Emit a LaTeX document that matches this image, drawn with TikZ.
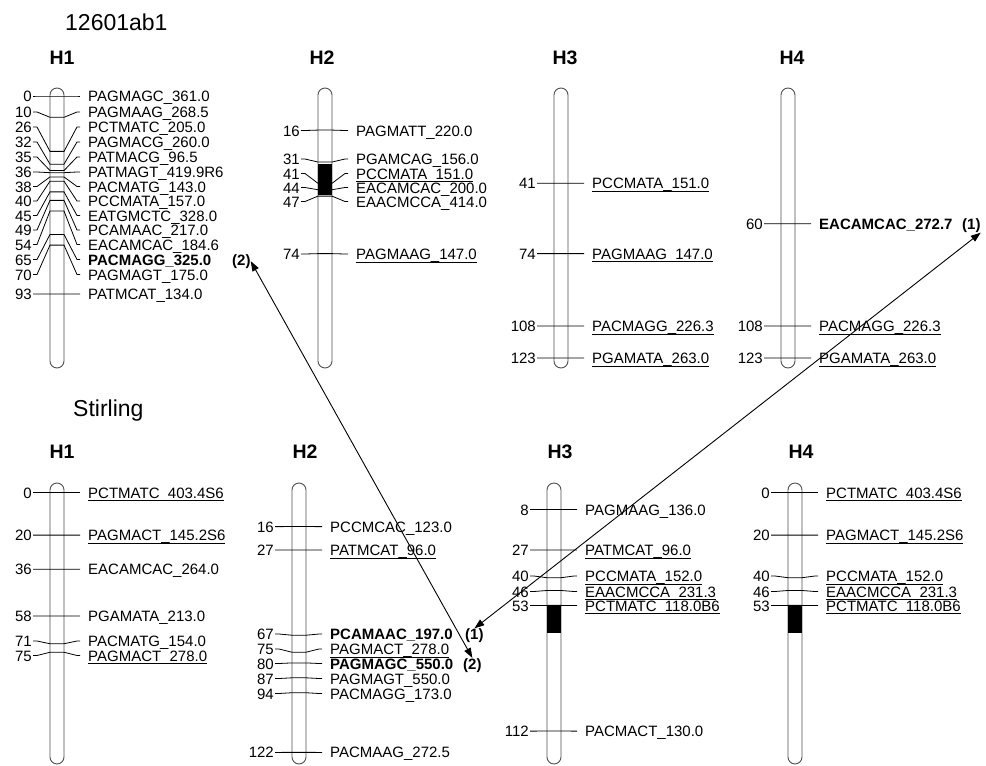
\documentclass[tikz,border=0pt]{standalone}
\usepackage{fontspec}
\setmainfont{Liberation Sans}
\usepackage{tikz}
\usetikzlibrary{arrows.meta}
\definecolor{barGray}{HTML}{505050}
\newsavebox{\ulbox}
\newcommand{\ulab}[1]{\sbox{\ulbox}{#1}\rlap{\rule[-3pt]{\wd\ulbox}{0.9pt}}\usebox{\ulbox}}
% chromosome: x, top, bottom
\newcommand{\chrom}[3]{\draw[bar] (#1-7,#2) rectangle (#1+7,#3);}
% marker: name, x, zero y, cM, label y, text
\newcommand{\mrk}[6]{%
  \draw[tick] (#2-24,#5) -- (#2-20,#5) -- (#2-7,#3+2.13*#4) -- (#2+7,#3+2.13*#4) -- (#2+20,#5) -- (#2+23,#5);
  \node[cmpos] (#1p) at (#2-25,#5+5.5) {#4};
  \node[mname] (#1) at (#2+31,#5+5.5) {#6};}

\begin{document}
\begin{tikzpicture}[x=1pt, y=-1pt,
  tick/.style={line width=0.8pt},
  bar/.style={draw=barGray, line width=0.9pt, fill=white, rounded corners=7pt},
  cmpos/.style={anchor=base east, inner sep=0pt, font=\fontsize{15}{15}\selectfont},
  mname/.style={anchor=base west, inner sep=0pt, font=\fontsize{15}{15}\selectfont},
  hd/.style={anchor=base, inner sep=0pt, font=\bfseries\fontsize{19.5}{20}\selectfont},
  pop/.style={anchor=base west, inner sep=0pt, font=\fontsize{23}{24}\selectfont},
  arr/.style={{Triangle[length=10pt,width=7pt]}-{Triangle[length=10pt,width=7pt]}, line width=0.9pt}]
\useasboundingbox (0,0) rectangle (986,766);

% 12601ab1
\node[pop] (popA) at (65,30) {12601ab1};
\node[hd] (tH1) at (62,64) {H1};
\node[hd] (tH2) at (322,64) {H2};
\node[hd] (tH3) at (565,64) {H3};
\node[hd] (tH4) at (792,64) {H4};
\chrom{57}{88}{368}
\chrom{325}{88}{368}
\chrom{561}{88}{368}
\chrom{788}{88}{368}
\fill (318,164) rectangle (332,195);

\mrk{t1a}{57}{96}{0}{96}{PAGMAGC\_361.0}
\mrk{t1b}{57}{96}{10}{112}{PAGMAAG\_268.5}
\mrk{t1c}{57}{96}{26}{127}{PCTMATC\_205.0}
\mrk{t1d}{57}{96}{32}{142}{PAGMACG\_260.0}
\mrk{t1e}{57}{96}{35}{157}{PATMACG\_96.5}
\mrk{t1f}{57}{96}{36}{172}{PATMAGT\_419.9R6}
\mrk{t1g}{57}{96}{38}{186.5}{PACMATG\_143.0}
\mrk{t1h}{57}{96}{40}{201}{PCCMATA\_157.0}
\mrk{t1i}{57}{96}{45}{215.5}{EATGMCTC\_328.0}
\mrk{t1j}{57}{96}{49}{230}{PCAMAAC\_217.0}
\mrk{t1k}{57}{96}{54}{244.5}{EACAMCAC\_184.6}
\mrk{t1l}{57}{96}{65}{259.5}{\textbf{PACMAGG\_325.0}}
\mrk{t1m}{57}{96}{70}{274.5}{PAGMAGT\_175.0}
\mrk{t1n}{57}{96}{93}{294}{PATMCAT\_134.0}
\node[mname] (t1two) at (232,265) {\textbf{(2)}};

\mrk{t2a}{325}{96}{16}{130.5}{PAGMATT\_220.0}
\mrk{t2b}{325}{96}{31}{159}{PGAMCAG\_156.0}
\mrk{t2c}{325}{96}{41}{173.5}{\ulab{PCCMATA\_151.0}}
\mrk{t2d}{325}{96}{44}{187.5}{EACAMCAC\_200.0}
\mrk{t2e}{325}{96}{47}{201.5}{EAACMCCA\_414.0}
\mrk{t2f}{325}{96}{74}{254}{\ulab{PAGMAAG\_147.0}}

\mrk{t3a}{561}{96}{41}{183.3}{\ulab{PCCMATA\_151.0}}
\mrk{t3b}{561}{96}{74}{253.6}{\ulab{PAGMAAG\_147.0}}
\mrk{t3c}{561}{96}{108}{326}{\ulab{PACMAGG\_226.3}}
\mrk{t3d}{561}{96}{123}{358}{\ulab{PGAMATA\_263.0}}

\mrk{t4a}{788}{96}{60}{223.8}{\textbf{EACAMCAC\_272.7}}
\mrk{t4b}{788}{96}{108}{326}{\ulab{PACMAGG\_226.3}}
\mrk{t4c}{788}{96}{123}{358}{\ulab{PGAMATA\_263.0}}
\node[mname] (t4one) at (962,229.3) {\textbf{(1)}};

% Stirling
\node[pop] (popB) at (73,416) {Stirling};
\node[hd] (bH1) at (62,458) {H1};
\node[hd] (bH2) at (305,458) {H2};
\node[hd] (bH3) at (560,458) {H3};
\node[hd] (bH4) at (801,458) {H4};
\chrom{57}{483}{764}
\chrom{299}{483}{764}
\chrom{554}{483}{764}
\chrom{795}{483}{764}
\fill (547,606) rectangle (561,633);
\fill (788,606) rectangle (802,633);

\mrk{b1a}{57}{492.5}{0}{492.5}{\ulab{PCTMATC\_403.4S6}}
\mrk{b1b}{57}{492.5}{20}{535.1}{\ulab{PAGMACT\_145.2S6}}
\mrk{b1c}{57}{492.5}{36}{569.2}{EACAMCAC\_264.0}
\mrk{b1d}{57}{492.5}{58}{616}{PGAMATA\_213.0}
\mrk{b1e}{57}{492.5}{71}{641}{PACMATG\_154.0}
\mrk{b1f}{57}{492.5}{75}{655.5}{\ulab{PAGMACT\_278.0}}

\mrk{b2a}{299}{492.5}{16}{526.6}{PCCMCAC\_123.0}
\mrk{b2b}{299}{492.5}{27}{550}{\ulab{PATMCAT\_96.0}}
\mrk{b2c}{299}{492.5}{67}{634}{\textbf{PCAMAAC\_197.0}}
\mrk{b2d}{299}{492.5}{75}{649}{\ulab{PAGMACT\_278.0}}
\mrk{b2e}{299}{492.5}{80}{663.5}{\textbf{PAGMAGC\_550.0}}
\mrk{b2f}{299}{492.5}{87}{678.5}{PAGMAGT\_550.0}
\mrk{b2g}{299}{492.5}{94}{693.5}{PACMAGG\_173.0}
\mrk{b2h}{299}{492.5}{122}{752.4}{PACMAAG\_272.5}
\node[mname] (b2one) at (465,639.5) {\textbf{(1)}};
\node[mname] (b2two) at (463,669) {\textbf{(2)}};

\mrk{b3a}{554}{492.5}{8}{509.5}{PAGMAAG\_136.0}
\mrk{b3b}{554}{492.5}{27}{550}{\ulab{PATMCAT\_96.0}}
\mrk{b3c}{554}{492.5}{40}{576}{\ulab{PCCMATA\_152.0}}
\mrk{b3d}{554}{492.5}{46}{591.5}{\ulab{EAACMCCA\_231.3}}
\mrk{b3e}{554}{492.5}{53}{605.5}{\ulab{PCTMATC\_118.0B6}}
\mrk{b3f}{554}{492.5}{112}{731.1}{PACMACT\_130.0}

\mrk{b4a}{795}{492.5}{0}{492.5}{\ulab{PCTMATC\_403.4S6}}
\mrk{b4b}{795}{492.5}{20}{535.1}{\ulab{PAGMACT\_145.2S6}}
\mrk{b4c}{795}{492.5}{40}{576}{\ulab{PCCMATA\_152.0}}
\mrk{b4d}{795}{492.5}{46}{591.5}{\ulab{EAACMCCA\_231.3}}
\mrk{b4e}{795}{492.5}{53}{605.5}{\ulab{PCTMATC\_118.0B6}}

% links
\draw[arr] (t1two.east) -- (b2two.north);
\draw[arr] (t4one.south east) -- (b2one.north);
\end{tikzpicture}
\end{document}
